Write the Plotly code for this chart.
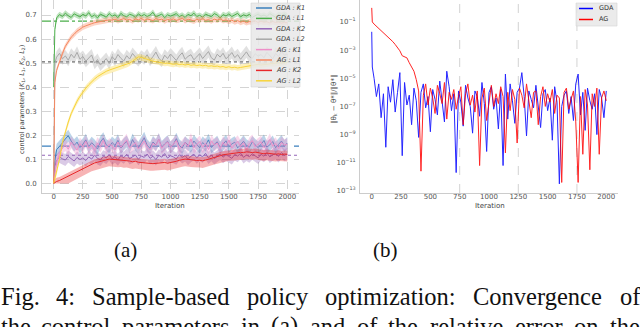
import plotly.graph_objects as go

# ---- data (a): control parameters ----
ITER_A = [0, 10] + list(range(25, 2001, 25))

GDA_K1 = [0.000, 0.095,
          0.140, 0.152, 0.168, 0.185, 0.198, 0.176, 0.158, 0.171, 0.149, 0.163,
          0.181, 0.152, 0.169, 0.157, 0.143, 0.172, 0.188, 0.160, 0.151, 0.170,
          0.158, 0.179, 0.147, 0.163, 0.174, 0.150, 0.182, 0.161, 0.148, 0.169,
          0.190, 0.158, 0.146, 0.172, 0.160, 0.183, 0.151, 0.164, 0.175, 0.149,
          0.162, 0.186, 0.158, 0.147, 0.171, 0.160, 0.152, 0.176, 0.163, 0.148,
          0.170, 0.158, 0.181, 0.150, 0.162, 0.173, 0.149, 0.161, 0.177, 0.152,
          0.164, 0.171, 0.148, 0.160, 0.175, 0.158, 0.150, 0.172, 0.161, 0.149,
          0.163, 0.178, 0.151, 0.160, 0.174, 0.148, 0.162, 0.176, 0.155, 0.168]
GDA_L1 = [0.400, 0.640,
          0.688, 0.702, 0.694, 0.708, 0.697, 0.690, 0.705, 0.699, 0.692, 0.703,
          0.696, 0.710, 0.693, 0.700, 0.688, 0.704, 0.698, 0.691, 0.706, 0.695,
          0.701, 0.689, 0.707, 0.697, 0.693, 0.703, 0.699, 0.690, 0.705, 0.696,
          0.702, 0.694, 0.700, 0.711, 0.692, 0.698, 0.704, 0.689, 0.701, 0.695,
          0.699, 0.706, 0.693, 0.700, 0.690, 0.703, 0.697, 0.708, 0.694, 0.699,
          0.691, 0.704, 0.698, 0.693, 0.706, 0.700, 0.688, 0.702, 0.696, 0.705,
          0.694, 0.699, 0.707, 0.692, 0.701, 0.696, 0.703, 0.690, 0.698, 0.704,
          0.695, 0.700, 0.693, 0.706, 0.698, 0.691, 0.702, 0.697, 0.704, 0.696]
GDA_K2 = [0.000, 0.070,
          0.095, 0.110, 0.102, 0.097, 0.112, 0.104, 0.093, 0.108, 0.099, 0.106,
          0.095, 0.110, 0.101, 0.118, 0.104, 0.097, 0.113, 0.106, 0.120, 0.102,
          0.111, 0.098, 0.115, 0.107, 0.121, 0.103, 0.110, 0.118, 0.100, 0.114,
          0.108, 0.122, 0.104, 0.113, 0.099, 0.117, 0.109, 0.124, 0.105, 0.115,
          0.110, 0.102, 0.119, 0.108, 0.116, 0.100, 0.113, 0.121, 0.107, 0.118,
          0.111, 0.125, 0.106, 0.117, 0.103, 0.114, 0.122, 0.109, 0.119, 0.112,
          0.104, 0.120, 0.113, 0.126, 0.108, 0.118, 0.111, 0.123, 0.115, 0.106,
          0.121, 0.113, 0.127, 0.110, 0.119, 0.124, 0.112, 0.128, 0.117, 0.122]
GDA_L2 = [0.000, 0.500,
          0.525, 0.541, 0.518, 0.530, 0.512, 0.537, 0.522, 0.545, 0.516, 0.528,
          0.508, 0.521, 0.534, 0.500, 0.515, 0.492, 0.506, 0.519, 0.498, 0.527,
          0.513, 0.536, 0.520, 0.509, 0.531, 0.517, 0.540, 0.523, 0.511, 0.529,
          0.518, 0.535, 0.512, 0.527, 0.546, 0.521, 0.508, 0.533, 0.519, 0.538,
          0.524, 0.511, 0.530, 0.543, 0.516, 0.528, 0.535, 0.514, 0.526, 0.540,
          0.519, 0.532, 0.548, 0.522, 0.513, 0.537, 0.525, 0.541, 0.518, 0.530,
          0.544, 0.523, 0.535, 0.516, 0.531, 0.547, 0.527, 0.520, 0.539, 0.529,
          0.536, 0.522, 0.545, 0.531, 0.518, 0.540, 0.528, 0.549, 0.533, 0.538]
AG_K1 = [0.000, 0.040,
         0.085, 0.125, 0.148, 0.160, 0.142, 0.171, 0.155, 0.138, 0.166, 0.150,
         0.175, 0.146, 0.160, 0.137, 0.168, 0.152, 0.179, 0.145, 0.163, 0.156,
         0.140, 0.172, 0.150, 0.165, 0.181, 0.147, 0.158, 0.170, 0.143, 0.162,
         0.176, 0.151, 0.139, 0.167, 0.158, 0.183, 0.146, 0.161, 0.172, 0.149,
         0.164, 0.178, 0.142, 0.157, 0.170, 0.153, 0.185, 0.148, 0.163, 0.174,
         0.150, 0.166, 0.141, 0.177, 0.159, 0.168, 0.145, 0.171, 0.156, 0.180,
         0.147, 0.162, 0.175, 0.153, 0.169, 0.140, 0.166, 0.178, 0.151, 0.164,
         0.173, 0.148, 0.160, 0.182, 0.155, 0.167, 0.144, 0.170, 0.159, 0.163]
AG_L1 = [0.000, 0.420,
         0.470, 0.510, 0.540, 0.570, 0.590, 0.608, 0.620, 0.633, 0.641, 0.650,
         0.655, 0.661, 0.664, 0.668, 0.671, 0.674, 0.676, 0.678, 0.680, 0.679,
         0.683, 0.677, 0.681, 0.685, 0.679, 0.682, 0.676, 0.684, 0.680, 0.686,
         0.678, 0.683, 0.681, 0.677, 0.685, 0.680, 0.683, 0.676, 0.682, 0.679,
         0.684, 0.678, 0.681, 0.686, 0.677, 0.683, 0.680, 0.675, 0.682, 0.679,
         0.685, 0.678, 0.681, 0.676, 0.683, 0.679, 0.684, 0.677, 0.680, 0.674,
         0.679, 0.672, 0.677, 0.670, 0.675, 0.668, 0.673, 0.671, 0.676, 0.669,
         0.674, 0.670, 0.672, 0.667, 0.673, 0.669, 0.671, 0.666, 0.670, 0.668]
AG_K2 = [0.000, 0.004,
         0.008, 0.012, 0.018, 0.025, 0.030, 0.036, 0.043, 0.048, 0.055, 0.062,
         0.068, 0.074, 0.080, 0.085, 0.088, 0.092, 0.095, 0.098, 0.101, 0.100,
         0.099, 0.097, 0.098, 0.095, 0.096, 0.093, 0.090, 0.092, 0.088, 0.086,
         0.084, 0.085, 0.083, 0.082, 0.084, 0.086, 0.085, 0.087, 0.084, 0.086,
         0.089, 0.092, 0.096, 0.099, 0.101, 0.100, 0.098, 0.097, 0.095, 0.096,
         0.094, 0.097, 0.100, 0.104, 0.108, 0.112, 0.115, 0.119, 0.121, 0.124,
         0.126, 0.125, 0.127, 0.129, 0.128, 0.131, 0.130, 0.128, 0.130, 0.127,
         0.125, 0.123, 0.126, 0.124, 0.122, 0.121, 0.123, 0.120, 0.122, 0.121]
AG_L2 = [0.000, 0.020,
         0.045, 0.100, 0.170, 0.215, 0.255, 0.290, 0.318, 0.342, 0.362, 0.380,
         0.396, 0.410, 0.423, 0.434, 0.444, 0.452, 0.460, 0.466, 0.471, 0.475,
         0.478, 0.482, 0.486, 0.490, 0.494, 0.500, 0.508, 0.518, 0.526, 0.524,
         0.519, 0.515, 0.512, 0.508, 0.505, 0.503, 0.501, 0.499, 0.500, 0.497,
         0.495, 0.498, 0.494, 0.496, 0.492, 0.495, 0.491, 0.493, 0.490, 0.492,
         0.489, 0.491, 0.487, 0.489, 0.486, 0.488, 0.484, 0.486, 0.482, 0.485,
         0.481, 0.483, 0.480, 0.482, 0.484, 0.487, 0.489, 0.491, 0.493, 0.495,
         0.492, 0.494, 0.496, 0.498, 0.497, 0.500, 0.502, 0.501, 0.503, 0.505]

# band half-widths (below, above)
BAND_LO = [0.025, 0.012, 0.025, 0.025, 0.025, 0.012, 0.030, 0.012]
BAND_HI = [0.025, 0.012, 0.025, 0.025, 0.025, 0.012, 0.015, 0.012]

# optimal values (dashed reference lines)
OPT_K1, OPT_L1, OPT_K2, OPT_L2 = 0.155, 0.675, 0.117, 0.505

NAMES_A = ["GDA : K1", "GDA : L1", "GDA : K2", "GDA : L2",
           "AG : K1", "AG : L1", "AG : K2", "AG : L2"]
SERIES_A = [GDA_K1, GDA_L1, GDA_K2, GDA_L2, AG_K1, AG_L1, AG_K2, AG_L2]
COLORS_A = ["#3b80bd", "#4bae4a", "#9466b8", "#a8a8a8",
            "#ee8fc8", "#f7875f", "#e8282b", "#f8d43a"]

# ---- data (b): relative error, log10 values ----
ITER_B = [0, 5] + list(range(20, 2001, 20))
GDA_ERR = [-1.7, -4.2,
           -5.0, -6.3, -5.4, -7.8, -6.1, -9.9, -5.6, -6.7, -5.1, -7.4,
           -6.0, -4.6, -10.5, -5.3, -6.9, -6.2, -8.3, -5.7, -6.6, -9.2,
           -6.0, -5.4, -7.1, -6.3, -8.8, -5.8, -6.5, -7.6, -5.2, -6.8,
           -8.1, -4.5, -5.6, -7.3, -6.1, -11.7, -5.9, -6.7, -8.4, -5.5,
           -6.4, -7.0, -8.9, -5.9, -6.3, -7.7, -5.3, -6.8, -10.2, -6.0,
           -5.6, -7.2, -6.4, -8.6, -5.8, -11.2, -4.7, -7.9, -5.4, -6.6,
           -8.2, -6.0, -5.7, -4.6, -6.3, -9.1, -5.9, -6.5, -7.1, -5.5,
           -6.8, -8.5, -6.1, -5.8, -7.3, -6.4, -9.4, -5.6, -6.7, -12.5,
           -7.0, -6.2, -5.9, -7.5, -6.3, -8.0, -5.4, -4.7, -7.6, -6.0,
           -8.7, -5.7, -6.6, -7.2, -6.1, -9.0, -5.8, -6.4, -7.8, -5.9]
AG_ERR = [0.0, -1.0,
          -1.15, -1.3, -1.45, -1.6, -1.75, -1.9, -2.05, -2.2, -2.4, -2.6,
          -2.85, -3.05, -3.4, -3.5, -3.55, -3.9, -4.2, -4.5, -5.1, -5.9,
          -11.6, -6.2, -5.4, -6.9, -5.7, -6.4, -7.5, -5.5, -6.1, -6.8,
          -5.3, -7.9, -6.0, -6.5, -5.8, -7.2, -6.3, -5.6, -8.3, -6.1,
          -5.4, -6.9, -6.2, -7.4, -5.9, -11.2, -6.4, -5.7, -8.0, -6.6,
          -5.5, -7.0, -6.1, -6.8, -5.6, -6.3, -10.3, -6.0, -7.3, -5.8,
          -6.5, -9.6, -5.7, -6.2, -7.1, -5.4, -6.6, -7.8, -6.0, -5.9,
          -8.3, -6.3, -5.6, -7.0, -6.1, -6.7, -5.8, -7.5, -6.2, -6.4,
          -12.4, -6.0, -5.7, -7.2, -6.5, -5.9, -8.1, -12.4, -6.3, -10.4,
          -5.8, -6.9, -11.5, -6.1, -7.0, -5.7, -10.4, -6.4, -5.9, -6.6]

X_TICKS = [0, 250, 500, 750, 1000, 1250, 1500, 1750, 2000]
Y_TICKS_A = [0.0, 0.1, 0.2, 0.3, 0.4, 0.5, 0.6, 0.7]
Y_EXP_B = [-1, -3, -5, -7, -9, -11, -13]
GRID_X_B = [750, 1250, 1750]

CAPTION_1 = ["Fig.", "4:", "Sample-based", "policy", "optimization:", "Convergence", "of"]
CAPTION_1_X = [-1, 54, 90, 245, 323, 471, 618]
CAPTION_2 = ["the", "control", "parameters", "in", "(a)", "and", "of", "the", "relative", "error", "on", "the"]
CAPTION_2_X = [-1, 39, 120, 239, 269, 308, 355, 386, 428, 513, 572, 608]

W, H = 640, 327
TICK_FONT = dict(family="DejaVu Sans", size=7, color="#555555")


def rgba(hex_color, a):
    h = hex_color.lstrip("#")
    r, g, b = int(h[0:2], 16), int(h[2:4], 16), int(h[4:6], 16)
    return f"rgba({r},{g},{b},{a})"


def px_x(p):
    return p / W


def px_y(p):
    return 1 - p / H


fig = go.Figure()

# reference lines behind everything
for val, col, dash in [(OPT_L1, "#4bae4a", "dashdot"), (OPT_L2, "#666666", "dot"),
                       (OPT_K1, "#3b80bd", "dash"), (OPT_K2, "#9466b8", "dot")]:
    fig.add_shape(type="line", xref="x domain", yref="y", x0=0, x1=1, y0=val, y1=val,
                  line=dict(color=col, width=1.2, dash=dash), layer="below")

for ys, lo, hi, col, name in zip(SERIES_A, BAND_LO, BAND_HI, COLORS_A, NAMES_A):
    upper = [v + hi for v in ys]
    lower = [max(v - lo, 0) if v > 0 else v for v in ys]
    fig.add_trace(go.Scatter(x=ITER_A + ITER_A[::-1], y=upper + lower[::-1], fill="toself",
                             fillcolor=rgba(col, 0.35), line=dict(width=0), mode="lines",
                             hoverinfo="skip", showlegend=False, xaxis="x", yaxis="y"))
    fig.add_trace(go.Scatter(x=ITER_A, y=ys, mode="lines", name=name,
                             line=dict(color=col, width=1), showlegend=False,
                             xaxis="x", yaxis="y"))

fig.add_trace(go.Scatter(x=ITER_B, y=[10 ** v for v in GDA_ERR], mode="lines", name="GDA",
                         line=dict(color="#0000ff", width=1), opacity=0.85, showlegend=False,
                         xaxis="x2", yaxis="y2"))
fig.add_trace(go.Scatter(x=ITER_B, y=[10 ** v for v in AG_ERR], mode="lines", name="AG",
                         line=dict(color="#ff0000", width=1), opacity=0.85, showlegend=False,
                         xaxis="x2", yaxis="y2"))

for gx in GRID_X_B:
    fig.add_shape(type="line", xref="x2", yref="y2 domain", x0=gx, x1=gx, y0=0, y1=1,
                  line=dict(color="#c8c8c8", width=0.8, dash="dash"), layer="below")

axis_common = dict(zeroline=False, showline=True, linecolor="#cccccc", linewidth=0.8,
                   ticks="", tickfont=TICK_FONT, automargin=False)

fig.update_layout(
    width=W, height=H, margin=dict(l=0, r=0, t=0, b=0),
    paper_bgcolor="white", plot_bgcolor="white", showlegend=False,
    xaxis=dict(domain=[px_x(42), px_x(299)], range=[-100, 2100], tickvals=X_TICKS,
               showgrid=True, gridcolor="#d4d4d4", griddash="dash", gridwidth=0.8,
               anchor="y", ticklabelstandoff=-3, **axis_common),
    yaxis=dict(domain=[px_y(193), 1], range=[-0.04, 0.7625], tickvals=Y_TICKS_A,
               ticktext=[f"{v:.1f}" for v in Y_TICKS_A],
               showgrid=True, gridcolor="#d4d4d4", griddash="dash", gridwidth=0.8,
               anchor="x", ticklabelstandoff=3, **axis_common),
    xaxis2=dict(domain=[px_x(360), px_x(618)], range=[-100, 2100], tickvals=X_TICKS,
                showgrid=False, anchor="y2", ticklabelstandoff=-3, **axis_common),
    yaxis2=dict(domain=[px_y(193), 1], type="log", range=[-13.15, 0.56],
                tickvals=[10 ** e for e in Y_EXP_B],
                ticktext=[f"10<sup>\u2212{-e}</sup>" for e in Y_EXP_B],
                showgrid=False, anchor="x2", ticklabelstandoff=2, **axis_common),
)


def note(x, y, text, font, xanchor="center", angle=0):
    return dict(x=px_x(x), y=px_y(y), xref="paper", yref="paper", text=text,
                xanchor=xanchor, yanchor="middle", textangle=angle, showarrow=False, font=font)


ann = []
lab_font = dict(family="DejaVu Sans", size=7, color="#444444")
ann.append(note(170, 206, "Iteration", lab_font))
ann.append(note(490, 206, "Iteration", lab_font))
ann.append(note(22, 100, "control parameters (<i>K</i><sub>1</sub>, <i>L</i><sub>1</sub>, "
                         "<i>K</i><sub>2</sub>, <i>L</i><sub>2</sub>)",
                dict(family="DejaVu Sans", size=6.5, color="#444444"), angle=-90))
ann.append(note(334, 100, "\u2016\u03b8<sub>k</sub> \u2212 \u03b8*\u2016/\u2016\u03b8*\u2016",
                lab_font, angle=-90))

# legend (a)
shapes = []
shapes.append(dict(type="rect", xref="paper", yref="paper", x0=px_x(251), x1=px_x(300),
                   y0=px_y(87), y1=px_y(3), fillcolor="rgba(232,232,232,0.85)",
                   line=dict(color="rgba(210,210,210,0.9)", width=0.6)))
leg_font = dict(family="DejaVu Sans", size=6.5, color="#333333")
for i, (name, col) in enumerate(zip(NAMES_A, COLORS_A)):
    yy = 8 + i * 10.4
    shapes.append(dict(type="line", xref="paper", yref="paper", x0=px_x(256), x1=px_x(272),
                       y0=px_y(yy), y1=px_y(yy), line=dict(color=col, width=1.5)))
    ann.append(note(274, yy, f"<i>{name}</i>", leg_font, xanchor="left"))
# legend (b)
shapes.append(dict(type="rect", xref="paper", yref="paper", x0=px_x(576), x1=px_x(617),
                   y0=px_y(26), y1=px_y(3), fillcolor="rgba(232,232,232,0.85)",
                   line=dict(color="rgba(210,210,210,0.9)", width=0.6)))
for i, (name, col) in enumerate([("GDA", "#0000ff"), ("AG", "#ff0000")]):
    yy = 8.5 + i * 11
    shapes.append(dict(type="line", xref="paper", yref="paper", x0=px_x(579), x1=px_x(593),
                       y0=px_y(yy), y1=px_y(yy), line=dict(color=col, width=1.5)))
    ann.append(note(597, yy, name, leg_font, xanchor="left"))

cap_font = dict(family="Liberation Serif", size=24.5, color="#111111")
sub_font = dict(family="Liberation Serif", size=21, color="#111111")
ann.append(note(125, 250, "(a)", sub_font))
ann.append(note(385, 250, "(b)", sub_font))
for word, x in zip(CAPTION_1, CAPTION_1_X):
    ann.append(note(x, 296, word, cap_font, xanchor="left"))
for word, x in zip(CAPTION_2, CAPTION_2_X):
    ann.append(note(x, 326, word, cap_font, xanchor="left"))

fig.update_layout(annotations=ann, shapes=list(fig.layout.shapes) + shapes)
fig.write_html("out.html", config={"displayModeBar": False},
               post_script="document.body.style.margin='0';")
